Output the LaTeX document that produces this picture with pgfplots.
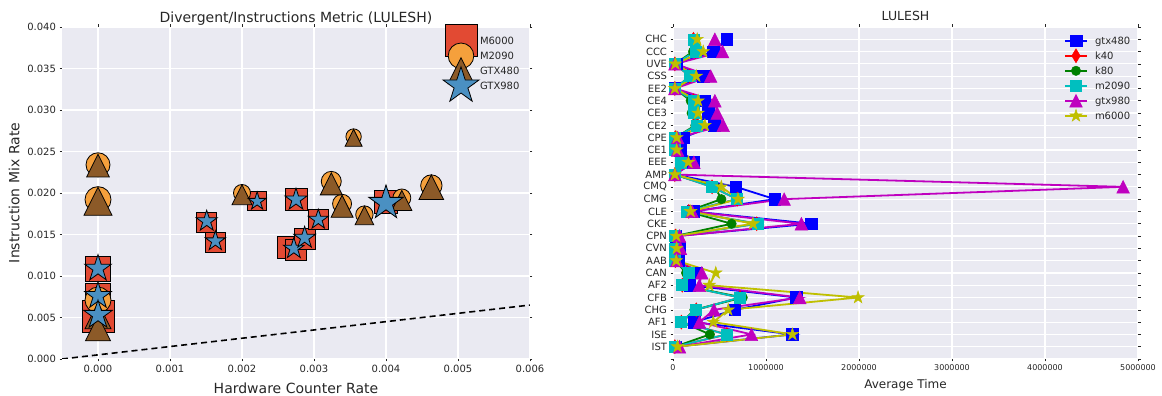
\documentclass[border=0pt]{standalone}
\usepackage{fontspec}
\setmainfont{DejaVu Sans}
\usepackage{pgfplots}
\pgfplotsset{compat=1.18}
\usepackage{pgfplotstable}

\definecolor{bgc}{HTML}{EAEAF2}
\definecolor{txt}{HTML}{262626}
\definecolor{sqred}{HTML}{E24A33}
\definecolor{corange}{HTML}{F5A03C}
\definecolor{tbrown}{HTML}{8C5A28}
\definecolor{sblue}{HTML}{4A90C2}
\definecolor{cB}{rgb}{0,0,1}
\definecolor{cR}{rgb}{1,0,0}
\definecolor{cG}{rgb}{0,0.5,0}
\definecolor{cC}{rgb}{0,0.75,0.75}
\definecolor{cM}{rgb}{0.75,0,0.75}
\definecolor{cY}{rgb}{0.75,0.75,0}

% filled five-pointed star
\pgfdeclareplotmark{mstar}{%
  \pgfpathmoveto{\pgfpointpolar{90}{\pgfplotmarksize}}%
  \pgfpathlineto{\pgfpointpolar{126}{0.382\pgfplotmarksize}}%
  \pgfpathlineto{\pgfpointpolar{162}{\pgfplotmarksize}}%
  \pgfpathlineto{\pgfpointpolar{198}{0.382\pgfplotmarksize}}%
  \pgfpathlineto{\pgfpointpolar{234}{\pgfplotmarksize}}%
  \pgfpathlineto{\pgfpointpolar{270}{0.382\pgfplotmarksize}}%
  \pgfpathlineto{\pgfpointpolar{306}{\pgfplotmarksize}}%
  \pgfpathlineto{\pgfpointpolar{342}{0.382\pgfplotmarksize}}%
  \pgfpathlineto{\pgfpointpolar{18}{\pgfplotmarksize}}%
  \pgfpathlineto{\pgfpointpolar{54}{0.382\pgfplotmarksize}}%
  \pgfpathclose
  \pgfusepathqfillstroke
}
% upward triangle as wide as it is tall
\pgfdeclareplotmark{mtri}{%
  \pgfpathmoveto{\pgfqpoint{0pt}{\pgfplotmarksize}}%
  \pgfpathlineto{\pgfqpoint{-\pgfplotmarksize}{-\pgfplotmarksize}}%
  \pgfpathlineto{\pgfqpoint{\pgfplotmarksize}{-\pgfplotmarksize}}%
  \pgfpathclose
  \pgfusepathqfillstroke
}
% thin diamond
\pgfdeclareplotmark{tdiamond}{%
  \pgfpathmoveto{\pgfqpoint{0pt}{\pgfplotmarksize}}%
  \pgfpathlineto{\pgfqpoint{0.6\pgfplotmarksize}{0pt}}%
  \pgfpathlineto{\pgfqpoint{0pt}{-\pgfplotmarksize}}%
  \pgfpathlineto{\pgfqpoint{-0.6\pgfplotmarksize}{0pt}}%
  \pgfpathclose
  \pgfusepathqfillstroke
}

% scatter data: x, y, marker half-size (pt)
\pgfplotstableread{
x y r
0 0.0108 12.5
0 0.0076 12.5
0 0.0051 16
0.00151 0.0165 10
0.00163 0.0141 10
0.00221 0.0190 9.5
0.00275 0.0192 11
0.00265 0.0134 11
0.00275 0.0131 10.5
0.00287 0.0145 10.5
0.00306 0.0168 10
0.0040 0.0189 11.5
}\msix
\pgfplotstableread{
x y r
0 0.0234 12
0 0.0192 13
0 0.0071 13
0.0020 0.0200 8.5
0.00324 0.0214 10
0.00355 0.0268 7.7
0.00339 0.0187 9.5
0.0037 0.0174 8.7
0.00422 0.0194 9
0.00463 0.0209 10.7
}\mtwo
\pgfplotstableread{
x y r
0 0.0233 11.3
0 0.0190 14
0 0.0052 13
0 0.0037 12.5
0.0020 0.0198 10
0.00324 0.0211 11
0.00355 0.02665 8.5
0.00339 0.0184 11
0.0037 0.0173 9.3
0.00422 0.0191 10
0.00463 0.0207 12.3
}\gfour
\pgfplotstableread{
x y r
0 0.0109 14
0 0.0076 14
0 0.0053 15
0.00151 0.0166 11
0.00163 0.0142 10.5
0.00221 0.0190 9.5
0.00275 0.0192 11.5
0.00272 0.0133 11
0.00287 0.0146 11.5
0.00306 0.0168 10.5
0.0040 0.0188 18
}\gnine

% LULESH average times per kernel (idx 0 = IST ... 25 = CHC)
\pgfplotstableread{
idx gtx480 k40 k80 m2090 gtx980 m6000
0 30000 20000 20000 20000 70000 50000
1 1284000 580000 397000 576000 844000 1284000
2 229000 90000 95000 83000 285000 433000
3 665000 250000 230000 247000 440000 594000
4 1327000 720000 750000 720000 1363000 1990000
5 182000 100000 95000 93000 283000 390000
6 254000 160000 140000 165000 310000 460000
7 60000 25000 25000 20000 40000 35000
8 70000 25000 25000 20000 80000 40000
9 30000 25000 25000 20000 70000 35000
10 1488000 900000 630000 915000 1380000 860000
11 215000 170000 150000 147000 205000 190000
12 1094000 690000 520000 690000 1195000 700000
13 676000 420000 450000 415000 4840000 520000
14 20000 20000 20000 20000 20000 20000
15 218000 85000 100000 80000 225000 165000
16 80000 25000 25000 20000 50000 40000
17 110000 25000 25000 20000 50000 40000
18 443000 265000 240000 260000 540000 343000
19 380000 220000 200000 218000 475000 270000
20 343000 220000 190000 218000 450000 270000
21 20000 20000 20000 20000 20000 20000
22 325000 180000 200000 180000 405000 250000
23 35000 20000 20000 20000 20000 25000
24 430000 240000 215000 240000 533000 325000
25 576000 220000 230000 218000 450000 260000
}\lulesh

\pgfplotsset{
  sbstyle/.style={
    scale only axis,
    axis background/.style={fill=bgc},
    axis line style={draw=none},
    grid=major,
    major grid style={draw=white, line width=1.2pt},
    tick align=outside,
    major tick length=2.5pt,
    tick style={draw=txt, line width=0.6pt},
    ticklabel style={text=txt},
    label style={text=txt},
    title style={text=txt},
    every axis title shift=0pt,
    /pgf/number format/assume math mode=true,
    legend cell align=left,
  },
  sizedmarks/.style={
    forget plot, only marks, scatter,
    point meta=\thisrow{r},
    scatter/use mapped color={draw=black, fill=#1},
    visualization depends on={\thisrow{r}\as\markrad},
    scatter/@pre marker code/.append style={/tikz/mark size=\markrad},
    mark options={line width=0.8pt},
  },
}

\begin{document}
\begin{tikzpicture}
\useasboundingbox (0,0) rectangle (1162pt,396pt);

\begin{axis}[sbstyle,
  at={(62pt,37pt)}, anchor=south west, width=468pt, height=332pt,
  xmin=-0.0005, xmax=0.006, ymin=0, ymax=0.04,
  xtick={0,0.001,0.002,0.003,0.004,0.005,0.006},
  ytick={0,0.005,0.01,0.015,0.02,0.025,0.03,0.035,0.04},
  scaled ticks=false,
  ticklabel style={font=\fontsize{10}{12}\selectfont},
  xticklabel style={/pgf/number format/.cd, fixed, fixed zerofill, precision=3},
  yticklabel style={/pgf/number format/.cd, fixed, fixed zerofill, precision=3},
  title={Divergent/Instructions Metric (LULESH)},
  title style={font=\fontsize{14}{16}\selectfont, at={(axis description cs:0.5,1.024)}, anchor=center},
  xlabel={Hardware Counter Rate},
  xlabel style={font=\fontsize{14}{16}\selectfont, at={(axis description cs:0.5,-0.0873)}, anchor=center},
  ylabel={Instruction Mix Rate},
  ylabel style={font=\fontsize{14}{16}\selectfont, at={(axis description cs:-0.102,0.5)}, anchor=center},
  legend style={at={(0.8419,0.981)}, anchor=north west, draw=none, fill=none,
    inner sep=0pt, outer sep=0pt, row sep=0pt, column sep=14pt,
    font=\fontsize{10}{12}\selectfont, text=txt,
    nodes={inner sep=0pt, text height=11.1pt, text depth=3.9pt}},
  legend image code/.code={%
    \pgfinterruptboundingbox
    \draw[#1] plot coordinates {(0pt,0pt)};
    \endpgfinterruptboundingbox
    \path[draw=none, fill=none] (-5pt,-7.5pt) rectangle (5pt,7.5pt);},
]
% reference line
\addplot[forget plot, black, dashed, line width=1.6pt, dash pattern=on 6pt off 4pt]
  coordinates {(-0.0005,0) (0.006,0.0065)};

\addplot[sizedmarks=sqred, mark=square*] table[x=x, y=y] {\msix};
\addplot[sizedmarks=corange, mark=*] table[x=x, y=y] {\mtwo};
\addplot[sizedmarks=tbrown, mark=mtri] table[x=x, y=y] {\gfour};
\addplot[sizedmarks=sblue, mark=mstar] table[x=x, y=y] {\gnine};

\addlegendimage{only marks, mark=square*, mark size=16pt, mark options={draw=black, fill=sqred, line width=0.8pt}}
\addlegendentry{M6000}
\addlegendimage{only marks, mark=*, mark size=12.8pt, mark options={draw=black, fill=corange, line width=0.8pt}}
\addlegendentry{M2090}
\addlegendimage{only marks, mark=mtri, mark size=13pt, mark options={draw=black, fill=tbrown, line width=0.8pt}}
\addlegendentry{GTX480}
\addlegendimage{only marks, mark=mstar, mark size=19pt, mark options={draw=black, fill=sblue, line width=0.8pt}}
\addlegendentry{GTX980}
\end{axis}

\begin{axis}[sbstyle,
  at={(673pt,37pt)}, anchor=south west, width=465pt, height=332pt,
  xmin=0, xmax=5000000, ymin=-1, ymax=26,
  xtick={0,1000000,2000000,3000000,4000000,5000000},
  scaled x ticks=false,
  xticklabel style={font=\fontsize{8}{10}\selectfont, /pgf/number format/.cd, fixed, 1000 sep={}},
  ytick={-1,0,...,26},
  yticklabels={{},IST,ISE,AF1,CHG,CFB,AF2,CAN,AAB,CVN,CPN,CKE,CLE,CMG,CMQ,AMP,EEE,CE1,CPE,CE2,CE3,CE4,EE2,CSS,UVE,CCC,CHC,{}},
  yticklabel style={font=\fontsize{10}{12}\selectfont},
  title={LULESH},
  title style={font=\fontsize{12.5}{14}\selectfont, at={(axis description cs:0.5,1.033)}, anchor=center},
  xlabel={Average Time},
  xlabel style={font=\fontsize{12}{14}\selectfont, at={(axis description cs:0.5,-0.0783)}, anchor=center},
  legend style={at={(0.843,0.981)}, anchor=north west, draw=none, fill=none,
    inner sep=0pt, outer sep=0pt, row sep=0pt, column sep=8pt,
    font=\fontsize{10}{12}\selectfont, text=txt,
    nodes={inner sep=0pt, text height=11.1pt, text depth=3.9pt}},
  legend image code/.code={%
    \pgfinterruptboundingbox
    \draw[mark repeat=2, mark phase=2, #1] plot coordinates {(-11pt,0pt) (0pt,0pt) (11pt,0pt)};
    \endpgfinterruptboundingbox
    \path[draw=none, fill=none] (-11pt,-7.5pt) rectangle (11pt,7.5pt);},
]
\addplot[cB, line width=1.8pt, mark=square*, mark size=5.8pt, mark options={solid, line width=0.5pt}]
  table[x=gtx480, y=idx] {\lulesh};
\addlegendentry{gtx480}
\addplot[cR, line width=1.8pt, mark=tdiamond, mark size=7pt, mark options={solid, line width=0.5pt}]
  table[x=k40, y=idx] {\lulesh};
\addlegendentry{k40}
\addplot[cG, line width=1.8pt, mark=*, mark size=4.7pt, mark options={solid, line width=0.5pt}]
  table[x=k80, y=idx] {\lulesh};
\addlegendentry{k80}
\addplot[cC, line width=1.8pt, mark=square*, mark size=5.5pt, mark options={solid, line width=0.5pt}]
  table[x=m2090, y=idx] {\lulesh};
\addlegendentry{m2090}
\addplot[cM, line width=1.8pt, mark=mtri, mark size=6.3pt, mark options={solid, line width=0.5pt}]
  table[x=gtx980, y=idx] {\lulesh};
\addlegendentry{gtx980}
\addplot[cY, line width=1.8pt, mark=mstar, mark size=6.5pt, mark options={solid, line width=0.5pt}]
  table[x=m6000, y=idx] {\lulesh};
\addlegendentry{m6000}
\end{axis}
\end{tikzpicture}
\end{document}
